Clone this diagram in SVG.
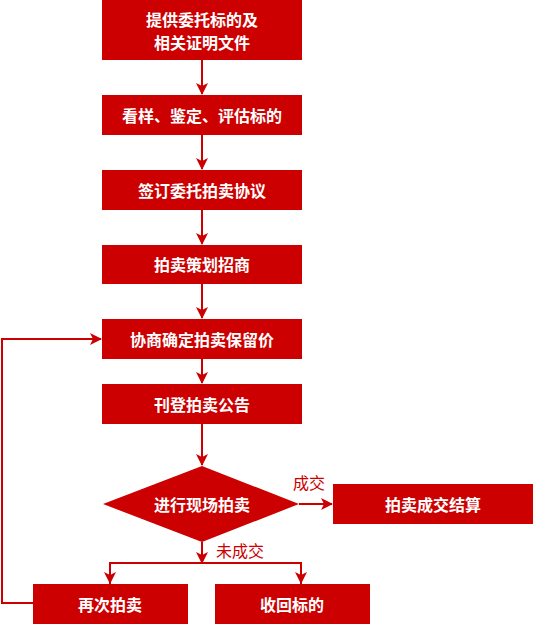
<svg xmlns="http://www.w3.org/2000/svg" width="533" height="624" viewBox="0 0 533 624">
<style>
.box{fill:#CC0000}
.t{fill:#fff;font-family:"Noto Sans CJK SC","Noto Sans",sans-serif;font-size:16px;font-weight:bold;text-anchor:middle;dominant-baseline:central}
.lbl{fill:#CC0000;font-family:"Noto Sans CJK SC","Noto Sans",sans-serif;font-size:16px;dominant-baseline:central}
.c{fill:none;stroke:#CC0000;stroke-width:2}
</style>
<defs>
<marker id="ah" markerWidth="12" markerHeight="12" refX="11" refY="6" orient="auto" markerUnits="userSpaceOnUse">
<path d="M0,0 L12,6 L0,12 L3,6 z" fill="#CC0000"/>
</marker>
</defs>
<rect width="533" height="624" fill="#fff"/>
<g id="connectors">
<line class="c" x1="202" y1="60" x2="202" y2="94" marker-end="url(#ah)"/>
<line class="c" x1="202" y1="135" x2="202" y2="169" marker-end="url(#ah)"/>
<line class="c" x1="202" y1="210" x2="202" y2="244" marker-end="url(#ah)"/>
<line class="c" x1="202" y1="284" x2="202" y2="318" marker-end="url(#ah)"/>
<line class="c" x1="202" y1="359" x2="202" y2="383" marker-end="url(#ah)"/>
<line class="c" x1="202" y1="424" x2="202" y2="465" marker-end="url(#ah)"/>
<line class="c" x1="299" y1="504" x2="332" y2="504" marker-end="url(#ah)"/>
<line class="c" x1="202" y1="542" x2="202" y2="563" marker-end="url(#ah)"/>
<polyline class="c" points="110,584 110,563 301,563 301,584"/>
<line class="c" x1="110" y1="570" x2="110" y2="583" marker-end="url(#ah)"/>
<line class="c" x1="301" y1="570" x2="301" y2="583" marker-end="url(#ah)"/>
<polyline class="c" points="33,603 2,603 2,339 101,339" marker-end="url(#ah)"/>
<text class="lbl" x="293" y="482">成交</text>
<text class="lbl" x="216" y="550">未成交</text>
</g>
<g id="n1"><rect class="box" x="102" y="0" width="200" height="60"/><text class="t" x="202" y="19">提供委托标的及</text><text class="t" x="202" y="42">相关证明文件</text></g>
<g id="n2"><rect class="box" x="102" y="95" width="200" height="40"/><text class="t" x="202" y="115">看样、鉴定、评估标的</text></g>
<g id="n3"><rect class="box" x="102" y="170" width="200" height="40"/><text class="t" x="202" y="190">签订委托拍卖协议</text></g>
<g id="n4"><rect class="box" x="102" y="245" width="200" height="39"/><text class="t" x="202" y="264">拍卖策划招商</text></g>
<g id="n5"><rect class="box" x="102" y="319" width="200" height="40"/><text class="t" x="202" y="339">协商确定拍卖保留价</text></g>
<g id="n6"><rect class="box" x="102" y="384" width="200" height="40"/><text class="t" x="202" y="404">刊登拍卖公告</text></g>
<g id="n7"><polygon class="box" points="202,466 299,504 202,542 103,504"/><text class="t" x="202" y="504">进行现场拍卖</text></g>
<g id="n8"><rect class="box" x="333" y="484" width="200" height="40"/><text class="t" x="433" y="504">拍卖成交结算</text></g>
<g id="n9"><rect class="box" x="33" y="584" width="155" height="40"/><text class="t" x="110" y="604">再次拍卖</text></g>
<g id="n10"><rect class="box" x="215" y="584" width="155" height="40"/><text class="t" x="292" y="604">收回标的</text></g>
</svg>
